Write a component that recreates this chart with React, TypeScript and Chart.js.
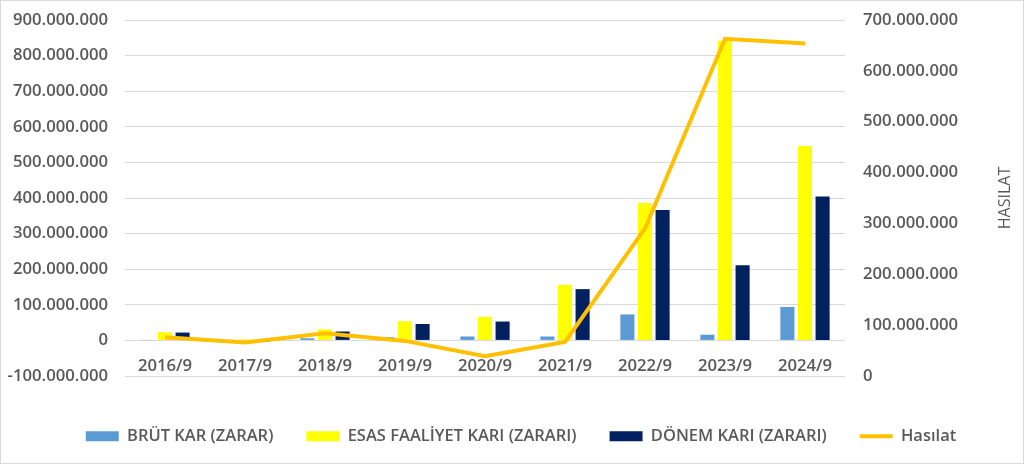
import { useEffect, useRef } from "react";
import { Chart, registerables } from "chart.js";

Chart.register(...registerables);

const labels = ["2016/9", "2017/9", "2018/9", "2019/9", "2020/9", "2021/9", "2022/9", "2023/9", "2024/9"];

// left axis series
const brutKar = [1000000, 1500000, 6000000, 9000000, 11000000, 11000000, 73000000, 16000000, 94000000];
const esasFaaliyetKari = [23000000, 3000000, 31000000, 54000000, 66000000, 156000000, 386000000, 842000000, 546000000];
const donemKari = [22000000, -4000000, 25000000, 46000000, 53000000, 144000000, 366000000, 211000000, 404000000];

// right axis series
const hasilat = [76000000, 66000000, 84000000, 69000000, 39000000, 67000000, 290000000, 663000000, 654000000];

const leftMin = -100000000;
const leftMax = 900000000;
const rightMin = 0;
const rightMax = 700000000;
const tickStep = 100000000;

const grey = "#595959";
const fmt = (v: number) => Math.round(v).toString().replace(/\B(?=(\d{3})+(?!\d))/g, ".");

// excel draws the secondary title bottom-to-top
const rightTitle = {
  id: "rightTitle",
  afterDraw(chart: any) {
    const { ctx, chartArea } = chart;
    ctx.save();
    ctx.translate(chart.width - 18, (chartArea.top + chartArea.bottom) / 2);
    ctx.rotate(-Math.PI / 2);
    ctx.font = "16px 'Open Sans'";
    ctx.fillStyle = grey;
    ctx.textAlign = "center";
    ctx.textBaseline = "middle";
    ctx.fillText("HASILAT", 0, 0);
    ctx.restore();
  },
};

// keep the legend band a fixed height, nudged a bit right like excel's
const legendFit = {
  id: "legendFit",
  beforeInit(chart: any) {
    const legend = chart.legend;
    if (!legend) return;
    const fit = legend.fit;
    legend.fit = function () {
      fit.call(this);
      this.height = 87;
    };
  },
  afterLayout(chart: any) {
    if (chart.legend) chart.legend.left += 18;
  },
};

export default function App() {
  const chartRef = useRef<HTMLCanvasElement | null>(null);

  useEffect(() => {
    document.body.style.margin = "0";
    const ctx = chartRef.current?.getContext("2d");
    if (!ctx) return;
    const tickFont = { family: "'Open Sans'", size: 16.7, weight: 600 as const };

    const chart = new Chart(ctx, {
      type: "bar",
      data: {
        labels,
        datasets: [
          {
            label: "BRÜT KAR (ZARAR)",
            data: brutKar,
            backgroundColor: "#5B9BD5",
            borderWidth: 0,
            pointStyle: "rect",
            yAxisID: "y",
            order: 1,
          },
          {
            label: "ESAS FAALİYET KARI (ZARARI)",
            data: esasFaaliyetKari,
            backgroundColor: "#FFFF00",
            borderWidth: 0,
            pointStyle: "rect",
            yAxisID: "y",
            order: 1,
          },
          {
            label: "DÖNEM KARI (ZARARI)",
            data: donemKari,
            backgroundColor: "#002060",
            borderWidth: 0,
            pointStyle: "rect",
            yAxisID: "y",
            order: 1,
          },
          {
            type: "line",
            label: "Hasılat",
            data: hasilat,
            borderColor: "#FFC000",
            backgroundColor: "#FFC000",
            borderWidth: 4,
            pointRadius: 0,
            pointStyle: "line",
            tension: 0,
            yAxisID: "y1",
            order: 0,
          } as any,
        ],
      },
      options: {
        responsive: true,
        maintainAspectRatio: false,
        animation: false,
        datasets: {
          bar: { barPercentage: 0.8, categoryPercentage: 0.66 },
        },
        layout: { padding: { left: 0, right: 0, top: 19, bottom: 0 } },
        plugins: {
          tooltip: { enabled: false },
          legend: {
            position: "bottom",
            title: { display: true, text: "", padding: { top: 17.8, bottom: 0 }, font: { size: 1 } },
            labels: {
              usePointStyle: true,
              pointStyleWidth: 33,
              boxHeight: 10,
              padding: 33,
              color: grey,
              font: { family: "'Open Sans'", size: 16.5, weight: 600 },
              sort: (a, b) => (a.datasetIndex ?? 0) - (b.datasetIndex ?? 0),
            },
          },
        },
        scales: {
          x: {
            position: { y: 0 } as any,
            grid: { display: false, drawTicks: false },
            border: { display: false },
            ticks: { color: grey, font: tickFont, padding: 16, maxRotation: 0 },
          },
          y: {
            position: "left",
            min: leftMin,
            max: leftMax,
            grid: { color: "#D9D9D9", lineWidth: 1, drawTicks: true, tickLength: 14, tickColor: "rgba(0,0,0,0)" },
            border: { display: false },
            ticks: { stepSize: tickStep, color: grey, font: tickFont, padding: 3, callback: (v) => fmt(Number(v)) },
            afterFit: (scale) => {
              scale.width = 124;
            },
          },
          y1: {
            position: "right",
            min: rightMin,
            max: rightMax,
            grid: { drawOnChartArea: false, drawTicks: true, tickLength: 15, tickColor: "rgba(0,0,0,0)" },
            border: { display: false },
            ticks: { stepSize: tickStep, color: grey, font: tickFont, padding: 3, callback: (v) => fmt(Number(v)) },
            afterFit: (scale) => {
              scale.width = 178;
            },
          },
        },
      },
      plugins: [legendFit, rightTitle],
    });
    return () => chart.destroy();
  }, []);

  return (
    <div style={{ width: 1024, height: 464, boxSizing: "border-box", border: "1px solid #D9D9D9", background: "#fff" }}>
      <div style={{ position: "relative", width: "100%", height: "100%" }}>
        <canvas ref={chartRef}></canvas>
      </div>
    </div>
  );
}
